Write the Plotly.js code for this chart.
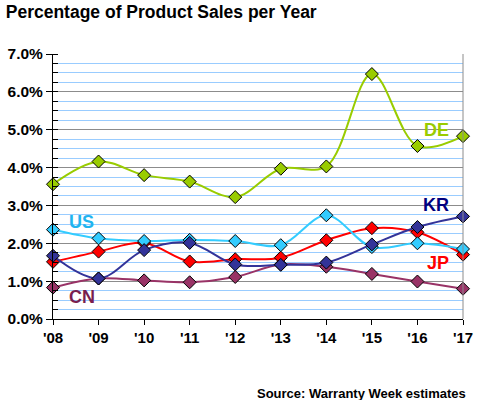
<!DOCTYPE html>
<html>
<head>
<meta charset="utf-8">
<script src="https://cdn.plot.ly/plotly-3.0.1.min.js"></script>
<style>html,body{margin:0;padding:0;background:#fff}#chart{width:480px;height:400px}</style>
</head>
<body>
<div id="chart"></div>
<script>
const years = ["'08","'09","'10","'11","'12","'13","'14","'15","'16","'17"];
const de = [3.56, 4.16, 3.80, 3.63, 3.22, 3.97, 4.03, 6.47, 4.57, 4.83];
const us = [2.36, 2.13, 2.06, 2.09, 2.06, 1.95, 2.74, 1.90, 2.00, 1.85];
const jp = [1.51, 1.78, 2.01, 1.52, 1.58, 1.62, 2.08, 2.40, 2.29, 1.70];
const kr = [1.67, 1.07, 1.82, 2.01, 1.44, 1.43, 1.49, 1.97, 2.43, 2.71];
const cn = [0.83, 1.07, 1.02, 0.97, 1.11, 1.44, 1.38, 1.19, 0.99, 0.80];
const seriesNames = ["DE","CN","JP","US","KR"];
const seriesData = {DE: de, CN: cn, JP: jp, US: us, KR: kr};
const colors = {DE:"#99cc00", CN:"#993366", JP:"#ff0000", US:"#33ccff", KR:"#333399"};
const labelColors = {DE:"#99cc00", CN:"#7a1f4f", JP:"#ff0000", US:"#1fb4ef", KR:"#000080"};
const labelPos = {DE:[9,5.0,"right"], KR:[9,3.0,"right"], JP:[9,1.47,"right"], US:[0,2.55,"left"], CN:[0,0.57,"left"]};

const traces = seriesNames.map(n => ({
  x: years, y: seriesData[n].map(v => v/100), name: n, type: "scatter", mode: "lines+markers",
  line: {color: colors[n], width: 2, shape: "spline", smoothing: 1},
  marker: {symbol: "diamond", size: 10, color: colors[n], line: {color: "#000", width: 1}},
  cliponaxis: false, hoverinfo: "skip"
}));

const annotations = seriesNames.map(n => ({
  x: labelPos[n][0], y: labelPos[n][1]/100, xref: "x", yref: "y", text: n, showarrow: false,
  xanchor: labelPos[n][2], xshift: labelPos[n][2] === "right" ? -12 : 14,
  font: {family: "Liberation Sans, Arial, sans-serif", size: 18, color: labelColors[n], weight: "bold"}
}));
annotations.push({
  x: 1, y: 0, xref: "paper", yref: "paper", yshift: -74, xshift: 5, xanchor: "right", yanchor: "middle", showarrow: false,
  text: "<b>Source: Warranty Week estimates</b>",
  font: {family: "Liberation Sans, Arial, sans-serif", size: 13, color: "#000"}
});

const layout = {
  width: 480, height: 400,
  margin: {l: 53, r: 17, t: 54, b: 81},
  paper_bgcolor: "#fff", plot_bgcolor: "#fff",
  showlegend: false,
  title: {text: "<b>Percentage of Product Sales per Year</b>", x: 0.012, xanchor: "left", y: 0.97, yanchor: "middle",
          font: {family: "Liberation Sans, Arial, sans-serif", size: 17.5, color: "#000"}},
  xaxis: {type: "category", range: [0, 9], showgrid: false, zeroline: false,
          minor: {showgrid: false, ticks: ""},
          showline: true, linecolor: "#000", linewidth: 1,
          ticks: "outside", ticklen: 5, tickcolor: "#000",
          tickfont: {family: "Liberation Sans, Arial, sans-serif", size: 15, color: "#000", weight: "bold"}},
  yaxis: {range: [0, 0.07], dtick: 0.01, tickformat: ".1%", zeroline: false,
          showline: true, linecolor: "#000", linewidth: 1,
          ticks: "outside", ticklen: 6, tickcolor: "#000",
          gridcolor: "#8c8c8c", gridwidth: 1,
          minor: {dtick: 0.0025, showgrid: true, gridcolor: "#99ccff", gridwidth: 1, ticks: "inside", ticklen: 5, tickcolor: "#000"},
          tickfont: {family: "Liberation Sans, Arial, sans-serif", size: 15.5, color: "#000", weight: "bold"}},
  shapes: [{type: "line", xref: "paper", yref: "paper", x0: 1, x1: 1, y0: 0, y1: 1, line: {color: "#8c8c8c", width: 1}}],
  annotations: annotations
};
Plotly.newPlot("chart", traces, layout, {staticPlot: true});
</script>
</body>
</html>
